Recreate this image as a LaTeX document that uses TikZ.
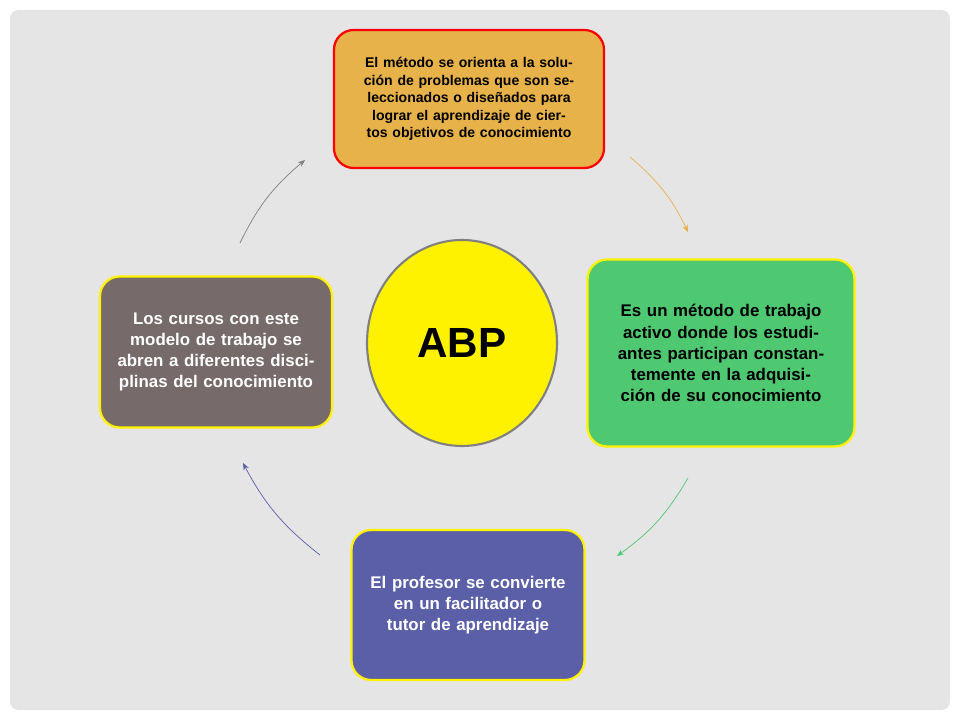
\documentclass[tikz,border=0pt]{standalone}
\usepackage{fontspec}
\setmainfont{Liberation Sans}
\usetikzlibrary{arrows.meta,shapes.geometric}
\begin{document}
\begin{tikzpicture}[x=0.025cm,y=-0.025cm,
  box/.style={draw=yellow,line width=1.6pt,rounded corners=14pt,align=center,font=\bfseries,inner sep=4pt},
  arr/.style={-{Stealth[length=5pt,width=4pt]},line width=0.5pt}]
\useasboundingbox (0,0) rectangle (960,720);
\fill[white] (0,0) rectangle (960,720);
\fill[gray!20,rounded corners=6pt] (10,10) rectangle (950,710);
\node[box,draw=red,fill={rgb,255:red,232;green,178;blue,74},minimum width=270*0.025cm,text width=250*0.025cm,minimum height=138*0.025cm,font=\bfseries\fontsize{10}{12.5}\selectfont] (t) at (469,99) {El método se orienta a la solución de problemas que son seleccionados o diseñados para lograr el aprendizaje de ciertos objetivos de conocimiento};
\node[box,fill={rgb,255:red,79;green,200;blue,114},minimum width=267*0.025cm,text width=240*0.025cm,minimum height=187*0.025cm,font=\bfseries\fontsize{12}{15}\selectfont] (r) at (721,353) {Es un método de trabajo activo donde los estudiantes participan constantemente en la adquisición de su conocimiento};
\node[box,fill={rgb,255:red,90;green,95;blue,168},text=white,minimum width=233*0.025cm,text width=200*0.025cm,minimum height=150*0.025cm,font=\bfseries\fontsize{12}{15}\selectfont] (b) at (468,605) {El profesor se convierte en un facilitador o tutor de aprendizaje};
\node[box,fill={rgb,255:red,118;green,106;blue,106},text=white,minimum width=232*0.025cm,text width=215*0.025cm,minimum height=151*0.025cm,font=\bfseries\fontsize{12}{15}\selectfont] (l) at (216,352) {Los cursos con este modelo de trabajo se abren a diferentes disciplinas del conocimiento};
\node[draw=gray,line width=1.5pt,fill=yellow,ellipse,inner sep=0pt,minimum width=190*0.025cm,minimum height=206*0.025cm,font=\bfseries\fontsize{30}{30}\selectfont] (c) at (462,343) {ABP};
\coordinate (a1) at (630,157); \coordinate (a2) at (688,232);
\coordinate (b1) at (688,478); \coordinate (b2) at (617,556);
\coordinate (c1) at (320,555); \coordinate (c2) at (243,463);
\coordinate (d1) at (240,243); \coordinate (d2) at (305,160);
\draw[arr,color={rgb,255:red,232;green,178;blue,74}] (a1) to[bend left=12] (a2);
\draw[arr,color={rgb,255:red,79;green,200;blue,114}] (b1) to[bend left=12] (b2);
\draw[arr,color={rgb,255:red,90;green,95;blue,168}] (c1) to[bend left=12] (c2);
\draw[arr,color=gray] (d1) to[bend left=12] (d2);
\end{tikzpicture}
\end{document}
